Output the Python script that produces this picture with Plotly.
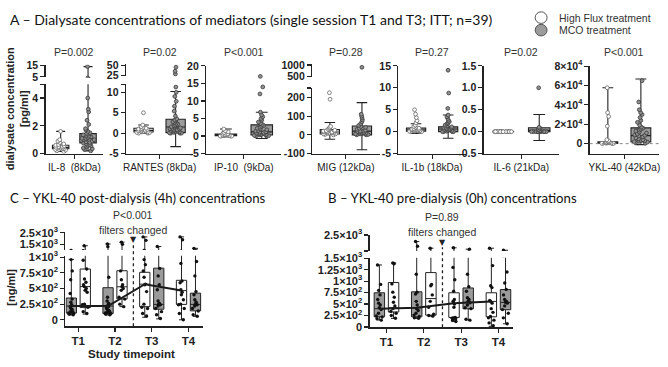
import math
import plotly.graph_objects as go

W, H = 668, 367

# ---------------- data ----------------
treatments = ["High Flux treatment", "MCO treatment"]
mediators = ["IL-8  (8kDa)", "RANTES (8kDa)", "IP-10  (9kDa)", "MIG (12kDa)",
             "IL-1b (18kDa)", "IL-6 (21kDa)", "YKL-40 (42kDa)"]
p_values = ["P=0.002", "P=0.02", "P<0.001", "P=0.28", "P=0.27", "P=0.02", "P<0.001"]

# box statistics, panel A (one value per mediator)
hf_low = [0.15, 0.0, 0.0, -23, -0.4, 0.0, 0]
hf_q1 = [0.35, 0.3, 0.1, 5, 0.1, 0.0, 300]
hf_med = [0.45, 0.7, 0.3, 15, 0.4, 0.0, 800]
hf_q3 = [0.6, 1.2, 0.6, 28, 0.8, 0.0, 2000]
hf_high = [1.6, 2.0, 2.0, 66, 1.8, 0.0, 57700]
mco_low = [0.2, -3.3, -0.7, -79, -1.5, -0.2, -1000]
mco_q1 = [0.77, 0.15, 0.3, 0, 0.0, 0.0, 1700]
mco_med = [1.09, 1.5, 1.2, 20, 0.6, 0.03, 8300]
mco_q3 = [1.44, 3.4, 3.2, 47, 1.1, 0.09, 16300]
mco_high = [14, 10.2, 6.8, 172, 3.8, 0.39, 66700]

# individual values, panel A
il8_hf = [0.15, 0.2, 0.25, 0.3, 0.3, 0.35, 0.4, 0.4, 0.45, 0.45, 0.5, 0.5, 0.55, 0.6, 0.65, 0.7, 0.8, 0.9, 1.0, 1.6]
il8_mco = [0.2, 0.3, 0.35, 0.4, 0.5, 0.55, 0.6, 0.65, 0.7, 0.75, 0.8, 0.85, 0.9, 0.95, 1.0, 1.0, 1.05, 1.1, 1.1,
           1.15, 1.2, 1.25, 1.3, 1.35, 1.4, 1.45, 1.5, 1.6, 1.7, 1.8, 2.1, 2.4, 3.0, 3.2, 4.0, 14.0]
rantes_hf = [0, 0, 0.1, 0.2, 0.3, 0.3, 0.4, 0.5, 0.5, 0.6, 0.7, 0.8, 0.9, 1.0, 1.1, 1.2, 1.4, 1.6, 2.0, 5.0]
rantes_mco = [0, 0, 0, 0.1, 0.2, 0.3, 0.4, 0.5, 0.6, 0.7, 0.8, 0.9, 1.0, 1.1, 1.2, 1.3, 1.5, 1.6, 1.8, 2.0, 2.2,
              2.4, 2.6, 2.8, 3.0, 3.2, 3.5, 4.2, 5.4, 6.6, 7.8, 9.0, 10.0, 11.3, 28, 35, 45]
ip10_hf = [0, 0, 0, 0, 0.1, 0.1, 0.2, 0.2, 0.3, 0.3, 0.4, 0.5, 0.6, 0.8, 1.0, 1.2, 1.5, 2.0]
ip10_mco = [0, 0, 0.1, 0.2, 0.3, 0.4, 0.5, 0.6, 0.7, 0.8, 1.0, 1.1, 1.2, 1.4, 1.6, 1.8, 2.0, 2.2, 2.5, 2.8, 3.0,
            3.3, 3.6, 4.0, 4.5, 5.0, 5.5, 6.0, 6.8, 12, 14, 17]
mig_hf = [0, 2, 5, 5, 8, 10, 10, 12, 14, 15, 15, 18, 20, 20, 22, 25, 28, 30, 35, 40, 45, 190, 225]
mig_mco = [0, 0, 2, 5, 5, 8, 10, 12, 15, 18, 20, 20, 25, 30, 35, 40, 45, 50, 60, 70, 80, 90, 100, 110, 900]
il1b_hf = [0, 0, 0, 0.1, 0.1, 0.2, 0.2, 0.3, 0.3, 0.4, 0.4, 0.5, 0.5, 0.6, 0.7, 0.8, 1.0, 1.2, 1.5, 2.0, 2.5, 3.2,
           4.0, 5.0]
il1b_mco = [0, 0, 0, 0, 0.1, 0.2, 0.3, 0.4, 0.5, 0.5, 0.6, 0.7, 0.8, 0.9, 1.0, 1.1, 1.3, 1.5, 1.8, 2.0, 2.3, 2.6,
            3.0, 3.4, 3.8, 5.3, 8.8, 14.0]
il6_hf = [0, 0, 0, 0, 0, 0, 0, 0, 0, 0, 0, 0, 0, 0, 0, 0, 0, 0, 0, 0]
il6_mco = [0, 0, 0, 0, 0, 0, 0, 0, 0, 0, 0, 0, 0.02, 0.05, 0.05, 0.08, 0.1, 1.0]
ykl_hf = [100, 200, 300, 400, 500, 600, 800, 1000, 1200, 1500, 2000, 2500, 3000, 4000, 18000, 28000, 32000, 57700]
ykl_mco = [500, 1000, 1500, 2000, 2500, 3000, 3500, 4000, 5000, 6000, 7000, 8000, 8500, 9000, 10000, 11000, 12000,
           13000, 14000, 15000, 16000, 17000, 19000, 22000, 24000, 27000, 30000, 32000, 35000, 43000, 65000]

hf_points = [il8_hf, rantes_hf, ip10_hf, mig_hf, il1b_hf, il6_hf, ykl_hf]
mco_points = [il8_mco, rantes_mco, ip10_mco, mig_mco, il1b_mco, il6_mco, ykl_mco]

# panels B and C: timepoints, two boxes per timepoint (slot 1 / slot 2)
timepoints = ["T1", "T2", "T3", "T4"]
slot1_treatment = [1, 1, 0, 0]   # index into treatments
slot2_treatment = [0, 0, 1, 1]

# C - post-dialysis (4h)
c_s1_low = [77, 77, 41, 0]
c_s1_q1 = [108, 100, 210, 246]
c_s1_med = [220, 220, 568, 466]
c_s1_q3 = [348, 512, 758, 630]
c_s1_high = [962, 1530, 2150, 2150]
c_s2_low = [92, 210, 15, 56]
c_s2_q1 = [195, 333, 169, 143]
c_s2_med = [530, 527, 246, 246]
c_s2_q3 = [810, 783, 824, 425]
c_s2_high = [1380, 1690, 1310, 1150]
c_s1_pts = [[80, 90, 100, 110, 120, 130, 150, 170, 190, 210, 240, 280, 330, 420, 640, 780, 960],
            [80, 90, 100, 110, 120, 130, 140, 150, 170, 190, 210, 230, 260, 300, 360, 680, 1300, 1530],
            [60, 100, 180, 200, 250, 450, 560, 570, 680, 780, 880, 960, 1850, 2150],
            [0, 100, 180, 240, 250, 320, 400, 440, 480, 590, 620, 900, 1900, 2150]]
c_s2_pts = [[100, 130, 200, 240, 250, 440, 470, 500, 530, 560, 600, 650, 810, 950, 1380],
            [210, 250, 330, 360, 470, 500, 530, 560, 640, 780, 1500, 1690],
            [20, 80, 130, 180, 220, 240, 250, 260, 300, 480, 560, 700, 820, 1310],
            [56, 80, 140, 180, 220, 240, 250, 280, 320, 400, 450, 700, 930, 1150]]

# B - pre-dialysis (0h)
b_s1_low = [154, 188, 119, 14]
b_s1_q1 = [223, 223, 209, 223]
b_s1_med = [400, 419, 516, 558]
b_s1_q3 = [747, 768, 747, 747]
b_s1_high = [1354, 2090, 1700, 1676]
b_s2_low = [188, 237, 154, 70]
b_s2_q1 = [328, 258, 398, 377]
b_s2_med = [420, 620, 537, 537]
b_s2_q3 = [970, 1187, 852, 817]
b_s2_high = [1396, 1676, 1618, 1550]
b_s1_pts = [[150, 180, 220, 240, 300, 380, 420, 480, 520, 600, 700, 800, 930, 1354],
            [190, 200, 230, 260, 300, 360, 400, 480, 560, 720, 760, 1150, 1794, 2090],
            [120, 150, 180, 190, 200, 210, 430, 500, 530, 560, 600, 780, 1030, 1300, 1700],
            [30, 90, 150, 200, 230, 320, 400, 520, 560, 580, 860, 900, 1340, 1676]]
b_s2_pts = [[190, 250, 300, 340, 400, 460, 540, 650, 760, 940, 1380, 1396],
            [237, 250, 280, 430, 560, 700, 900, 930, 1676],
            [150, 170, 400, 420, 480, 530, 560, 600, 640, 780, 880, 1150, 1618],
            [70, 200, 300, 380, 460, 520, 540, 560, 600, 700, 820, 960, 1200, 1550]]

c_p_value = "P<0.001"
b_p_value = "P=0.89"

# ---------------- style ----------------
INK = "#222222"
GREY = "#9b9b9b"
FILL = ["#ffffff", GREY]
PT_FILL = ["#ffffff", "#8f8f8f"]
PT_LINE = ["#666666", "#3a3a3a"]
ARIAL = "Liberation Sans"


def sci(v):
    if v == 0:
        return "0"
    e = int(math.floor(math.log10(abs(v))))
    m = v / 10 ** e
    return f"{m:g}×10<sup>{e}</sup>"


fig = go.Figure()
axes = {}
counter = [0]

AXSTYLE = dict(showline=True, linecolor=INK, linewidth=1.3, ticks="outside", ticklen=4, tickwidth=1.2,
               tickcolor=INK, showgrid=False, zeroline=False, fixedrange=True)


def add_axes(xpx, ypx, xrange, yrange, xkw, ykw):
    counter[0] += 1
    n = counter[0]
    sfx = "" if n == 1 else str(n)
    axes["xaxis" + sfx] = dict(domain=[xpx[0] / W, xpx[1] / W], range=xrange, anchor="y" + sfx, **AXSTYLE)
    axes["xaxis" + sfx].update(xkw)
    axes["yaxis" + sfx] = dict(domain=[1 - ypx[1] / H, 1 - ypx[0] / H], range=yrange, anchor="x" + sfx, **AXSTYLE)
    axes["yaxis" + sfx].update(ykw)
    return "x" + sfx, "y" + sfx


def ytick_kw(vals, texts, size=10.5):
    return dict(tickmode="array", tickvals=vals, ticktext=texts,
                tickfont=dict(family=ARIAL, size=size, color=INK, weight="bold"))


HIDDEN_X = dict(visible=False)

# ---------- panel A geometry (pixels) ----------
A_GEOM = [
    dict(x=(43, 101), low=((80, 152), [0, 5], [0, 2, 4, 5], ["0", "2", "4", ""]),
         up=((60, 73), [4.5, 15.5], [5, 15], ["5", "15"])),
    dict(x=(124, 192), low=((80, 152), [-5, 12], [-5, 0, 5, 10, 12], ["-5", "0", "5", "10", ""]),
         up=((59, 72), [22, 53], [25, 50], ["25", "50"])),
    dict(x=(205, 281), low=((61, 152), [-5, 20], [-5, 0, 5, 10, 15, 20], ["-5", "0", "5", "10", "15", "20"]),
         up=None),
    dict(x=(312, 380), low=((84, 152), [-100, 250], [-100, 0, 100, 200, 250], ["-100", "0", "100", "200", ""]),
         up=((59, 73), [450, 1050], [500, 1000], ["500", "1000"])),
    dict(x=(399, 467), low=((61, 152), [-5, 15], [-5, 0, 5, 10, 15], ["-5", "0", "5", "10", "15"]), up=None),
    dict(x=(485, 561), low=((61, 152), [-0.5, 1.5], [-0.5, 0, 0.5, 1.0, 1.5], ["-0.5", "0.0", "0.5", "1.0", "1.5"]),
         up=None),
    dict(x=(592, 662), low=((61, 152), [-10300, 80300], [0, 20000, 40000, 60000, 80000],
                            ["0"] + [sci(v) for v in [20000, 40000, 60000, 80000]]), up=None),
]
A_XRANGE = [-0.55, 1.55]
BOXW = 0.6

annotations = []
shapes = []

hf_stats = list(zip(hf_low, hf_q1, hf_med, hf_q3, hf_high))
mco_stats = list(zip(mco_low, mco_q1, mco_med, mco_q3, mco_high))

for i, g in enumerate(A_GEOM):
    xkw = dict(tickmode="array", tickvals=[0.5], ticktext=[mediators[i]],
               tickfont=dict(family=ARIAL, size=10, color=INK))
    refs = []
    ypx, yr, tv, tt = g["low"]
    refs.append(add_axes(g["x"], ypx, A_XRANGE, yr, xkw, ytick_kw(tv, tt)))
    if g["up"]:
        ypx2, yr2, tv2, tt2 = g["up"]
        refs.append(add_axes(g["x"], ypx2, A_XRANGE, yr2, HIDDEN_X, ytick_kw(tv2, tt2)))
    for xr, yr_ in refs:
        for k, (stats, pts) in enumerate([(hf_stats[i], hf_points[i]), (mco_stats[i], mco_points[i])]):
            lo, q1, md, q3, hi = stats
            fig.add_trace(go.Box(x=[k], q1=[q1], median=[md], q3=[q3], lowerfence=[lo], upperfence=[hi],
                                 orientation="v", width=BOXW, fillcolor=FILL[k], whiskerwidth=0.55,
                                 line=dict(color=INK, width=1.1), boxpoints=False,
                                 xaxis=xr, yaxis=yr_, showlegend=False, hoverinfo="skip"))
            fig.add_trace(go.Box(y=pts, x0=k, orientation="v", width=BOXW, boxpoints="all", jitter=0.85,
                                 pointpos=0, fillcolor="rgba(0,0,0,0)", line=dict(width=0),
                                 marker=dict(size=3.8, color=PT_FILL[k], line=dict(color=PT_LINE[k], width=0.8)),
                                 xaxis=xr, yaxis=yr_, showlegend=False, hoverinfo="skip"))
    main_x = refs[0][0]
    annotations.append(dict(text=p_values[i], x=0.5, xref=f"{main_x} domain", y=1 - 47 / H, yref="paper",
                            showarrow=False, xanchor="center", yanchor="middle",
                            font=dict(family=ARIAL, size=10.5, color="#333333")))
    if i == 6:
        shapes.append(dict(type="line", xref=f"{main_x} domain", x0=0, x1=1, yref=refs[0][1], y0=0, y1=0,
                           line=dict(color="#888888", width=1, dash="dot")))

# ---------- panels C and B ----------
BC_GEOM = [
    dict(key="C", x=(63, 202), xrange=[-0.35, 3.4],
         low=((258, 331), [-103, 1020], [0, 250, 500, 750, 1000]),
         up=((233, 252), [1000, 2600], [1500, 2500]),
         title=("C – YKL-40 post-dialysis (4h) concentrations", 5, 198),
         p=(c_p_value, 216), filt=231, tri=241, line_top=246,
         s1=(c_s1_low, c_s1_q1, c_s1_med, c_s1_q3, c_s1_high, c_s1_pts),
         s2=(c_s2_low, c_s2_q1, c_s2_med, c_s2_q3, c_s2_high, c_s2_pts)),
    dict(key="B", x=(370, 515), xrange=[-0.45, 3.4],
         low=((260, 332), [-5, 1510], [0, 250, 500, 750, 1000, 1250, 1500]),
         up=((236, 253), [1500, 2520], [1500, 2500]),
         title=("B – YKL-40 pre-dialysis (0h) concentrations", 326, 198),
         p=(b_p_value, 218), filt=233, tri=244, line_top=249,
         s1=(b_s1_low, b_s1_q1, b_s1_med, b_s1_q3, b_s1_high, b_s1_pts),
         s2=(b_s2_low, b_s2_q1, b_s2_med, b_s2_q3, b_s2_high, b_s2_pts)),
]
SLOT_OFF = [-0.19, 0.19]
BW2 = 0.28

for g in BC_GEOM:
    xkw = dict(tickmode="array", tickvals=list(range(len(timepoints))), ticktext=timepoints,
               tickfont=dict(family=ARIAL, size=11.5, color=INK, weight="bold"))
    ypx, yr, tv = g["low"]
    tt = [sci(v) for v in tv]
    refs = [add_axes(g["x"], ypx, g["xrange"], yr, xkw, ytick_kw(tv, tt, 11))]
    ypx2, yr2, tv2 = g["up"]
    tt2 = [sci(v) for v in tv2]
    if g["key"] == "B":
        tt2 = [""] + tt2[1:]
    refs.append(add_axes(g["x"], ypx2, g["xrange"], yr2, HIDDEN_X, ytick_kw(tv2, tt2, 11)))
    for xr, yr_ in refs:
        for s, (slot, trt) in enumerate([(g["s1"], slot1_treatment), (g["s2"], slot2_treatment)]):
            lo, q1, md, q3, hi, pts = slot
            for t in range(len(timepoints)):
                pos = t + SLOT_OFF[s]
                fig.add_trace(go.Box(x=[pos], q1=[q1[t]], median=[md[t]], q3=[q3[t]], lowerfence=[lo[t]],
                                     upperfence=[hi[t]], orientation="v", width=BW2, fillcolor=FILL[trt[t]],
                                     whiskerwidth=0.5, line=dict(color=INK, width=1.0), boxpoints=False,
                                     xaxis=xr, yaxis=yr_, showlegend=False, hoverinfo="skip"))
                fig.add_trace(go.Box(y=pts[t], x0=pos, orientation="v", width=BW2, boxpoints="all", jitter=0.7,
                                     pointpos=0, fillcolor="rgba(0,0,0,0)", line=dict(width=0),
                                     marker=dict(size=3.4, color="#111111"),
                                     xaxis=xr, yaxis=yr_, showlegend=False, hoverinfo="skip"))
    # median trend line through slot-1 boxes
    lo, q1, md, q3, hi, pts = g["s1"]
    fig.add_trace(go.Scatter(x=[t + SLOT_OFF[0] for t in range(len(timepoints))], y=md, mode="lines",
                             line=dict(color="#1a1a1a", width=2), xaxis=refs[0][0], yaxis=refs[0][1],
                             showlegend=False, hoverinfo="skip"))
    xr0 = refs[0][0]
    shapes.append(dict(type="line", xref=xr0, x0=1.5, x1=1.5, yref="paper",
                       y0=1 - ypx[1] / H, y1=1 - g["line_top"] / H,
                       line=dict(color=INK, width=1.3, dash="dot")))
    annotations.append(dict(text="▼", x=1.5, xref=xr0, y=1 - g["tri"] / H, yref="paper", showarrow=False,
                            xanchor="center", yanchor="middle", font=dict(family="DejaVu Sans", size=8, color=INK)))
    annotations.append(dict(text=g["p"][0], x=1.5, xref=xr0, y=1 - g["p"][1] / H, yref="paper", showarrow=False,
                            xanchor="center", yanchor="middle", font=dict(family=ARIAL, size=10.5, color="#333333")))
    annotations.append(dict(text="filters changed", x=1.5, xref=xr0, y=1 - g["filt"] / H, yref="paper",
                            showarrow=False, xanchor="center", yanchor="middle",
                            font=dict(family=ARIAL, size=10.5, color="#333333")))
    ttl, tx, ty = g["title"]
    annotations.append(dict(text=ttl, x=tx / W, xref="paper", y=1 - ty / H, yref="paper", showarrow=False,
                            xanchor="left", yanchor="middle", font=dict(family="Lato", size=13.2, color="#111111")))

# ---------- texts ----------
annotations.append(dict(text="A – Dialysate concentrations of mediators (single session T1 and T3; ITT; n=39)",
                        x=5 / W, xref="paper", y=1 - 13 / H, yref="paper", showarrow=False, xanchor="left",
                        yanchor="middle", font=dict(family="Lato", size=14.0, color="#111111")))
annotations.append(dict(text="dialysate concentration<br>[pg/ml]", x=14 / W, xref="paper", y=1 - 105 / H,
                        yref="paper", showarrow=False, textangle=-90, xanchor="center", yanchor="middle",
                        font=dict(family=ARIAL, size=11, color=INK, weight="bold")))
annotations.append(dict(text="[ng/ml]", x=8 / W, xref="paper", y=1 - 290 / H, yref="paper", showarrow=False,
                        textangle=-90, xanchor="center", yanchor="middle",
                        font=dict(family=ARIAL, size=11, color=INK, weight="bold")))
annotations.append(dict(text="Study timepoint", x=130 / W, xref="paper", y=1 - 360 / H, yref="paper",
                        showarrow=False, xanchor="center", yanchor="middle",
                        font=dict(family=ARIAL, size=11.5, color=INK, weight="bold")))

# legend (drawn as circles + labels)
for k, name in enumerate(treatments):
    cy = 11 + 13 * k
    shapes.append(dict(type="circle", xref="paper", yref="paper", x0=537 / W, x1=549 / W,
                       y0=1 - (cy + 6) / H, y1=1 - (cy - 6) / H, fillcolor=FILL[k],
                       line=dict(color="#555555", width=1)))
    annotations.append(dict(text=name, x=559 / W, xref="paper", y=1 - cy / H, yref="paper", showarrow=False,
                            xanchor="left", yanchor="middle", font=dict(family=ARIAL, size=10.5, color="#333333")))

fig.update_layout(width=W, height=H, margin=dict(l=0, r=0, t=0, b=0), autosize=False,
                  paper_bgcolor="white", plot_bgcolor="white", boxmode="overlay", showlegend=False,
                  annotations=annotations, shapes=shapes, **axes)

fig.write_html("out.html", config={"displayModeBar": False, "staticPlot": True},
               post_script="document.body.style.margin='0';document.body.style.overflow='hidden';")
